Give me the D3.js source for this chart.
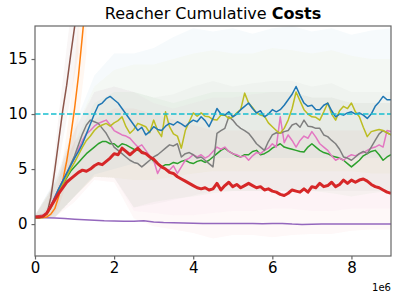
<!DOCTYPE html>
<html><head><meta charset="utf-8">
<script src="https://cdn.jsdelivr.net/npm/d3@7"></script>
<style>body{margin:0;background:#fff}svg{display:block}</style>
</head><body>
<svg id="c" width="399" height="301"></svg>
<script>
// x in units of 1e6 steps, step 0.1 from 0 to 9
const xTicks = [0, 2, 4, 6, 8];
const yTicks = [0, 5, 10, 15];
const threshold = 10;

const red = [0.65,0.65,0.7,1.0,1.6,2.2,2.8,3.3,3.8,4.1,4.4,
4.7,4.9,4.8,5.0,5.3,5.5,5.4,5.7,6.0,6.4,
6.3,6.9,6.6,6.3,6.6,6.9,6.5,6.4,6.1,5.9,
5.5,5.2,5.0,4.7,4.6,4.3,4.1,3.9,3.7,3.5,
3.3,3.2,3.3,3.1,3.2,3.7,3.1,3.5,3.8,3.4,
3.6,3.3,3.5,3.7,3.5,3.3,3.4,3.1,3.2,3.0,
2.9,2.7,2.6,2.8,3.1,3.0,2.9,3.2,2.9,3.4,
3.3,3.7,3.4,3.5,3.8,3.4,3.6,4.0,3.7,4.0,
3.8,4.0,4.1,3.9,3.6,3.4,3.3,3.1,2.9,2.8];
const blue = [0.6,0.6,0.7,1.0,1.6,2.4,3.2,3.9,4.6,5.3,6.0,
6.6,7.3,8.2,9.1,10.0,10.8,11.0,11.4,11.6,11.3,
11.0,10.5,10.0,9.5,9.0,8.5,8.8,8.1,8.4,8.85,
8.6,8.5,8.9,9.15,9.0,9.3,9.1,8.85,9.2,9.45,
9.3,9.75,9.4,8.85,9.6,10.5,10.0,9.9,10.2,9.75,
10.0,10.4,10.7,11.0,10.5,10.1,10.3,9.75,10.0,10.4,
10.2,10.4,10.8,11.3,11.8,12.5,11.7,11.0,10.7,10.8,
10.4,10.4,10.8,11.0,10.3,9.75,10.0,9.9,10.1,10.2,
10.0,10.1,9.9,9.6,10.0,10.7,11.1,11.6,11.3,11.3];
const olive = [0.55,0.55,0.6,0.9,1.5,2.3,3.0,3.6,4.3,5.0,5.6,
6.3,7.0,7.6,8.0,8.5,8.85,9.0,9.15,8.9,9.2,
9.4,9.75,8.85,8.25,8.6,9.15,9.0,8.85,8.3,9.45,
8.5,7.95,10.2,8.85,8.2,8.0,6.9,8.5,9.3,10.1,
9.8,10.1,9.8,9.75,9.5,9.45,9.9,9.9,9.6,9.75,
10.1,10.4,11.9,11.0,10.6,10.1,9.9,9.8,9.2,8.85,
8.5,8.25,8.7,9.45,10.5,12.0,11.2,10.4,10.0,9.75,
9.7,9.45,10.2,11.0,10.0,9.45,10.3,10.7,10.5,11.0,
10.2,9.75,8.8,7.95,8.4,8.5,8.6,8.5,8.3,8.1];
const gray = [0.6,0.6,0.65,1.0,1.6,2.4,3.2,3.9,4.6,5.4,6.2,
7.2,8.2,9.0,9.45,9.3,9.15,8.7,8.25,7.6,7.0,
6.7,6.4,6.1,5.8,5.6,5.5,5.2,5.5,5.8,6.1,
6.3,6.6,6.9,7.2,7.1,7.3,6.1,6.4,6.5,6.3,
6.0,6.1,5.8,5.5,5.2,8.25,8.5,8.7,9.75,9.45,
9.0,8.7,8.5,8.25,7.8,7.3,7.0,6.7,7.5,8.1,
8.3,8.25,8.4,8.5,9.0,9.15,8.8,9.45,8.9,8.85,
8.7,8.7,8.1,7.95,7.6,7.3,6.8,6.1,6.0,5.8,
6.1,6.4,6.6,6.4,7.0,7.6,8.2,8.5,8.3,8.1];
const pink = [0.7,0.7,0.8,1.1,1.7,2.5,3.2,3.9,4.6,5.3,6.0,
6.8,7.6,8.2,8.5,8.9,9.15,9.3,9.45,9.0,8.5,
8.3,8.1,8.0,7.8,7.4,7.0,7.2,6.7,6.2,5.8,
4.6,5.3,5.0,4.9,5.3,4.6,5.2,5.8,6.0,6.3,
6.1,6.3,6.0,6.2,6.6,7.0,6.8,7.0,6.6,6.4,
6.3,6.1,6.2,5.8,6.2,6.5,6.4,6.7,6.9,7.3,
7.0,9.75,7.4,8.1,7.6,7.0,7.6,8.0,7.8,8.4,
7.9,7.3,7.0,6.7,6.2,5.8,6.0,5.8,6.1,6.3,
6.2,6.4,6.5,6.7,6.9,7.0,7.2,7.0,8.5,8.4];
const green = [0.6,0.6,0.65,0.95,1.5,2.3,3.0,3.6,4.2,4.8,5.2,
5.6,6.0,6.4,6.7,7.0,7.3,7.5,7.5,7.3,7.3,
7.0,7.3,7.2,7.0,6.8,6.7,6.6,6.4,6.1,5.7,
5.5,5.2,5.4,5.4,5.6,5.5,5.7,5.8,5.6,5.5,
5.7,5.8,5.6,5.8,6.1,6.4,6.7,6.9,6.6,6.4,
6.2,6.1,6.3,6.3,6.6,6.7,6.3,6.4,6.6,6.9,
7.1,7.3,7.0,6.9,6.8,6.7,6.6,6.55,7.0,7.3,
7.0,6.7,6.5,6.4,6.2,6.1,6.0,5.8,5.5,5.2,
5.5,5.8,6.2,6.4,6.6,6.7,6.3,5.8,6.1,6.3];
const brown = [0.7,0.75,0.8,0.9,2.4,4.9,7.6,10.3,12.6,15.3,17.9,20.5];
const orange = [0.6,0.6,0.6,0.65,0.9,1.4,2.5,3.9,5.7,7.9,10.5,13.5,17.2,21.0];
const purple = [0.6,0.58,0.55,0.5,0.45,0.4,0.35,0.3,0.28,0.25,0.25,0.3,0.2,0.15,0.12,0.1,0.07,0.05,0.05,0.05,
0.05,0.05,0.05,0.03,0.05,0.05,0.0,-0.03,-0.02,0.0,0.0,0.0,0.0,0.0,0.0,0.0,0.0];

// bands at 0.5 step
const blueLo  = [0.5,0.6,2.5,4.5,5.0,5.5,5.5,5.5,5.8,6,6,6,6,6,6,6,6,6,6];
const blueHi  = [0.8,4,9,13.5,15.5,15.5,16,17,17.8,17.5,17.8,17.3,17.8,18,17.5,17.8,17.2,17.6,17.8];
const oliveLo = [0.5,0.6,2.5,4.3,4.2,4.0,4.0,4.3,4.6,4.8,4.8,4.8,4.8,4.8,4.8,4.8,4.8,4.6,4.6];
const oliveHi = [0.8,3.8,8.5,12.5,14,14.5,14.5,15,15.5,15.8,15.5,15.5,16,15.8,15.5,15.8,15.3,15,15];
const grayLo  = [0.5,0.6,2.5,4.3,4.2,1.5,1.8,2.2,2.6,3,3,3,3,3,3,3,3,3,3];
const grayHi  = [0.8,3.8,8.5,12,12.5,12,11.5,11.8,12.5,13,12.5,12.8,13,13,12.5,12.8,12,12,12];
const pinkLo  = [0.5,0.6,2.5,4.3,4.2,1.2,1.0,0.8,0.8,1.0,1.2,1.2,1.4,1.4,1.2,1.2,1.4,1.4,1.4];
const pinkHi  = [0.8,3.8,8.5,12,12.5,12,11,10.5,11,11.5,11.5,11.8,12,12,11.5,11.5,11,11,11];
const greenLo = [0.5,0.6,2.5,4.3,4.2,1.5,2.0,2.3,2.5,2.8,3,3,3,3,3,2.8,2.5,2.8,3];
const greenHi = [0.8,3.6,7.5,11,12,12,11.5,11,11.5,12,12,12,12,12,11.5,11.5,11,11,11];
const redLo   = [0.5,0.6,2.0,4.0,3.8,0.5,-0.2,-0.5,-0.8,-1.3,-1.0,-1.0,-1.2,-1.0,-0.9,-0.9,-0.6,-0.5,-0.5];
const redHi   = [0.8,3.5,7.5,9.5,10.5,10.5,10,9.5,9,8.5,8.5,8.5,8.5,8.5,8.5,8.5,8.5,8.5,8.5];
const brownLo = [0.6,0.6,0.7,0.8,1.5,3.5,5.5,7.5,9.5,11.5,13.5,15.5];
const brownHi = [0.8,0.9,1.0,1.5,3.5,6.5,10,13,16,19,22,25];
const orangeLo= [0.5,0.5,0.5,0.55,0.7,1.0,1.6,2.6,3.8,5.2,7.0,9.5,12.5,15.5];
const orangeHi= [0.7,0.7,0.75,0.9,1.3,2.2,3.8,5.8,8.2,11,14.5,18.5,22.5,26];

const W = 399, H = 301;
const m = {l:35, r:8, t:26, b:45};
const svg = d3.select('#c');
const x = d3.scaleLinear().domain([0, 9]).range([m.l, W - m.r]);
const y = d3.scaleLinear().domain([-2.9, 18]).range([H - m.b, m.t]);

svg.append('defs').append('clipPath').attr('id','clip')
  .append('rect').attr('x', m.l).attr('y', m.t).attr('width', W-m.l-m.r).attr('height', H-m.t-m.b);
const g = svg.append('g').attr('clip-path','url(#clip)');

const C = {blue:'#1f77b4', orange:'#ff7f0e', green:'#2ca02c', red:'#d62728', purple:'#9467bd',
  brown:'#8c564b', pink:'#e377c2', gray:'#7f7f7f', olive:'#bcbd22', cyan:'#17becf'};

function band(lo, hi, step, color, op){
  const d = lo.map((v,i)=>({x:i*step, lo:v, hi:hi[i]}));
  g.append('path').datum(d)
   .attr('d', d3.area().x(p=>x(p.x)).y0(p=>y(p.lo)).y1(p=>y(p.hi)))
   .attr('fill', color).attr('fill-opacity', op).attr('stroke','none');
}
band(brownLo, brownHi, 0.1, C.brown, 0.05);
band(orangeLo, orangeHi, 0.1, C.orange, 0.06);
band(blueLo, blueHi, 0.5, C.blue, 0.04);
band(oliveLo, oliveHi, 0.5, C.olive, 0.035);
band(greenLo, greenHi, 0.5, C.green, 0.035);
band(grayLo, grayHi, 0.5, C.gray, 0.035);
band(pinkLo, pinkHi, 0.5, C.pink, 0.035);
band(redLo, redHi, 0.5, C.red, 0.03);

function line(arr, step, color, w){
  const d = arr.map((v,i)=>({x:i*step, v}));
  g.append('path').datum(d)
   .attr('d', d3.line().x(p=>x(p.x)).y(p=>y(p.v)))
   .attr('fill','none').attr('stroke', color).attr('stroke-width', w)
   .attr('stroke-linejoin','round');
}
line(purple, 0.25, C.purple, 1.5);
line(brown, 0.1, C.brown, 1.5);
line(orange, 0.1, C.orange, 1.5);
line(green, 0.1, C.green, 1.5);
line(pink, 0.1, C.pink, 1.5);
line(gray, 0.1, C.gray, 1.5);
line(olive, 0.1, C.olive, 1.5);
line(blue, 0.1, C.blue, 1.5);
line(red, 0.1, C.red, 3);

g.append('line').attr('x1', x(0)).attr('x2', x(9)).attr('y1', y(threshold)).attr('y2', y(threshold))
  .attr('stroke', C.cyan).attr('stroke-width', 1.5).attr('stroke-dasharray','5.5,2.5');

// frame
svg.append('rect').attr('x', m.l).attr('y', m.t).attr('width', W-m.l-m.r).attr('height', H-m.t-m.b)
  .attr('fill','none').attr('stroke','#666').attr('stroke-width',1.2);

const font = 'DejaVu Sans, sans-serif';
const xa = svg.append('g').attr('transform', `translate(0,${H-m.b})`)
  .call(d3.axisBottom(x).tickValues(xTicks).tickFormat(d3.format('d')).tickSize(3.5).tickPadding(3));
const ya = svg.append('g').attr('transform', `translate(${m.l},0)`)
  .call(d3.axisLeft(y).tickValues(yTicks).tickFormat(d3.format('d')).tickSize(3.5).tickPadding(4));
[xa, ya].forEach(a=>{
  a.select('.domain').remove();
  a.selectAll('line').attr('stroke','#666').attr('stroke-width',1.2);
  a.selectAll('text').attr('fill','#000').style('font-family', font).style('font-size','15px');
});

svg.append('text').attr('x', W-m.r).attr('y', 291).attr('text-anchor','end')
  .style('font-family', font).style('font-size','10px').text('1e6');

const t = svg.append('text').attr('x', (m.l + W - m.r)/2).attr('y', 19).attr('text-anchor','middle')
  .style('font-family', font).style('font-size','16px');
t.append('tspan').text('Reacher Cumulative ');
t.append('tspan').attr('font-weight','bold').text('Costs');
</script>
</body></html>
